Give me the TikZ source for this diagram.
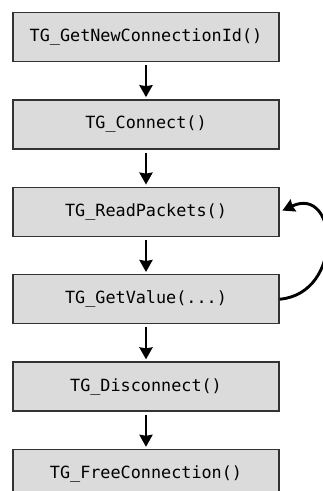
\documentclass[tikz,border=0pt]{standalone}
\usepackage{fontspec}
\setmonofont{DejaVu Sans Mono}
\usepackage{tikz}
\usetikzlibrary{arrows.meta,positioning}
\definecolor{BoxGray}{rgb}{0.86,0.86,0.86}
\definecolor{BoxEdge}{rgb}{0.2,0.2,0.2}

\tikzset{
    callbox/.style={draw=BoxEdge, line width=1.4pt, fill=BoxGray, minimum width=266pt,
        minimum height=49pt, inner sep=0pt, font=\ttfamily\fontsize{16.8}{18}\selectfont},
    callarrow/.style={line width=2.9pt, -{Stealth[length=12pt,width=13pt,inset=1pt]},
        shorten <=3pt, shorten >=2pt}
}

\begin{document}
\begin{tikzpicture}
    \path[use as bounding box, clip] (0,0) rectangle (323pt,-491pt);
    %%Calls
    \node[callbox] (newid) at (146pt,-37pt) {TG\_GetNewConnectionId()};
    \node[callbox, below=37pt of newid] (connect) {TG\_Connect()};
    \node[callbox, below=37pt of connect] (readpk) {TG\_ReadPackets()};
    \node[callbox, below=37pt of readpk] (getval) {TG\_GetValue(...)};
    \node[callbox, below=37pt of getval] (discon) {TG\_Disconnect()};
    \node[callbox, below=37pt of discon] (freecn) {TG\_FreeConnection()};
    \foreach \a/\b in {newid/connect,connect/readpk,readpk/getval,getval/discon,discon/freecn}
    {
    \draw[callarrow] (\a) to (\b);
    }
    %%Loop
    \draw[callarrow, shorten <=0pt, shorten >=3pt] (getval.east) to[out=5,in=25,looseness=1.9] (readpk.east);
\end{tikzpicture}
\end{document}
